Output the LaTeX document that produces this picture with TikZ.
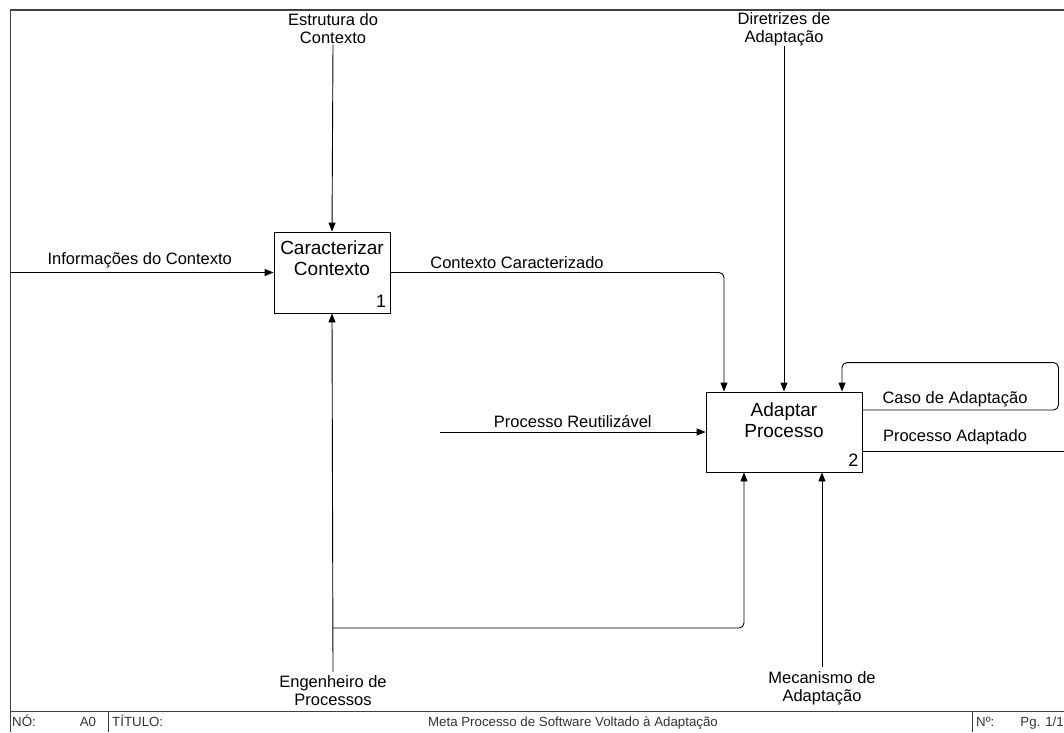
\documentclass[tikz,border=0pt]{standalone}
\usepackage{fontspec}
\setmainfont{Liberation Sans}
\usetikzlibrary{arrows.meta}

\begin{document}
\begin{tikzpicture}[x=1pt,y=-1pt,
  func/.style={draw,line width=0.9pt,inner sep=0pt,fill=white},
  boxtxt/.style={font=\fontsize{19}{21}\selectfont,align=center,inner sep=0pt},
  num/.style={font=\fontsize{18}{18}\selectfont,inner xsep=4pt,inner ysep=6pt},
  flow/.style={draw,line width=0.9pt,-{Triangle[length=9pt,width=7pt]},rounded corners=5pt},
  lbl/.style={font=\fontsize{16.5}{18}\selectfont,align=center,inner sep=0pt},
  foot/.style={font=\fontsize{13.3}{13.3}\selectfont,inner sep=0pt,text=black!80}]
\useasboundingbox (0,0) rectangle (1064,732);
% frame and footer
\draw[line width=1.4pt,black!75] (10,10) -- (1064,10);
\draw[line width=1pt,black!75] (10,10) -- (10,732);
\draw[line width=1pt,black!75] (10,711) -- (1064,711);
\draw[line width=1pt,black!75] (108,711) -- (108,732);
\draw[line width=1pt,black!75] (972,711) -- (972,732);
\node[foot,anchor=base west] (no) at (12,726) {NÓ:};
\node[foot,anchor=base] (a0) at (88,726) {A0};
\node[foot,anchor=base west] (tit) at (112,726) {TÍTULO:};
\node[foot,anchor=base] (title) at (573,726) {Meta Processo de Software Voltado à Adaptação};
\node[foot,anchor=base west] (nr) at (976,726) {Nº:};
\node[foot,anchor=base east] (pg) at (1064,726) {Pg. 1/1};

% functions
\node[func,minimum width=116pt,minimum height=81pt] (C1) at (332,272.5) {};
\node[boxtxt] (C1t) at (332,258) {Caracterizar\\Contexto};
\node[num,anchor=south east] (C1n) at (C1.south east) {1};
\node[func,minimum width=156pt,minimum height=80pt] (A2) at (784,432) {};
\node[boxtxt] (A2t) at (784,420) {Adaptar\\Processo};
\node[num,anchor=south east] (A2n) at (A2.south east) {2};

% controls
\node[lbl] (EC) at (333,29) {Estrutura do\\Contexto};
\node[lbl] (DA) at (784,29) {Diretrizes de\\Adaptação};
\draw[flow] (EC.south) -- (C1.north);
\draw[flow] (DA.south) -- (A2.north);

% inputs
\coordinate (in1) at (10,272.5);
\coordinate (in2) at (440,432);
\draw[flow] (in1) -- node[lbl,above=4pt,xshift=-2pt] {Informações do Contexto} (C1.west);
\draw[flow] (in2) -- node[lbl,above=4pt] {Processo Reutilizável} (A2.west);

% outputs
\draw[flow] (C1.east) -| ([xshift=-60pt]A2.north);
\node[lbl] (CC) at (517,263) {Contexto Caracterizado};
\draw[flow] ([yshift=22pt]A2.east) -- ++(196,0) |- ([xshift=58pt,yshift=29pt]A2.north) -- ([xshift=58pt]A2.north);
\node[lbl] (CA) at (955,399) {Caso de Adaptação};
\coordinate (out) at (1064,451);
\draw[line width=0.9pt] ([yshift=-19pt]A2.east) -- (out);
\node[lbl] (PA) at (955,437) {Processo Adaptado};

% mechanisms
\node[lbl] (EP) at (333,691) {Engenheiro de\\Processos};
\node[lbl] (MA) at (822,688) {Mecanismo de\\Adaptação};
\draw[flow] ([yshift=4pt]EP.north) -- (C1.south);
\coordinate (br) at (333,628);
\draw[flow] (br) -| ([xshift=-40pt]A2.south);
\draw[flow] ([yshift=4pt]MA.north) -- ([xshift=38pt]A2.south);
\end{tikzpicture}
\end{document}
